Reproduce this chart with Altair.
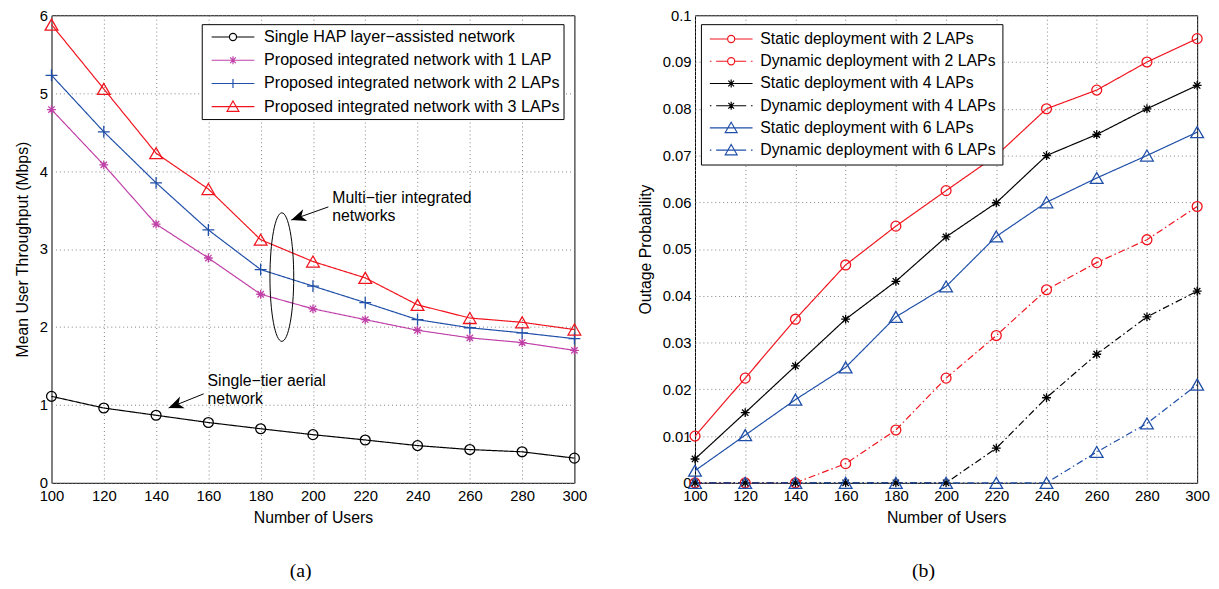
import altair as alt
import pandas as pd

FONT = "Liberation Sans"

users = [100, 120, 140, 160, 180, 200, 220, 240, 260, 280, 300]

# ---------------- panel (a): mean user throughput (Mbps)
a_names = [
    "Single HAP layer\u2212assisted network",
    "Proposed integrated network with 1 LAP",
    "Proposed integrated network with 2 LAPs",
    "Proposed integrated network with 3 LAPs",
]
a_hap = [1.11, 0.96, 0.867, 0.774, 0.694, 0.618, 0.55, 0.478, 0.427, 0.398, 0.317]
a_lap1 = [4.79, 4.08, 3.32, 2.885, 2.42, 2.233, 2.094, 1.958, 1.86, 1.80, 1.70]
a_lap2 = [5.23, 4.505, 3.85, 3.245, 2.737, 2.525, 2.313, 2.094, 1.99, 1.925, 1.85]
a_lap3 = [5.88, 5.055, 4.23, 3.77, 3.12, 2.84, 2.63, 2.284, 2.115, 2.06, 1.967]
a_yticks = [0, 1, 2, 3, 4, 5, 6]

# ---------------- panel (b): outage probability
b_names = [
    "Static deployment with 2 LAPs",
    "Dynamic deployment with 2 LAPs",
    "Static deployment with 4 LAPs",
    "Dynamic deployment with 4 LAPs",
    "Static deployment with 6 LAPs",
    "Dynamic deployment with 6 LAPs",
]
b_static2 = [0.0100, 0.0224, 0.0350, 0.0466, 0.0549, 0.0625, 0.0700, 0.0800, 0.0840, 0.0900, 0.0950]
b_dynamic2 = [0, 0, 0, 0.0041, 0.0113, 0.0224, 0.0315, 0.0413, 0.0471, 0.0520, 0.0591]
b_static4 = [0.0051, 0.0150, 0.0250, 0.0350, 0.0431, 0.0526, 0.0599, 0.0700, 0.0745, 0.0800, 0.0850]
b_dynamic4 = [0, 0, 0, 0, 0, 0, 0.0074, 0.0182, 0.0275, 0.0355, 0.0410]
b_static6 = [0.0026, 0.0102, 0.0178, 0.0247, 0.0355, 0.0420, 0.0527, 0.0600, 0.0652, 0.0700, 0.0750]
b_dynamic6 = [0, 0, 0, 0, 0, 0, 0, 0, 0.0066, 0.0127, 0.0210]
b_yticks = [0, 0.01, 0.02, 0.03, 0.04, 0.05, 0.06, 0.07, 0.08, 0.09, 0.1]

# annotations of panel (a)
ann_text = ["Multi\u2212tier integrated", "networks", "Single\u2212tier aerial", "network"]
ann_text_x = [207.4, 207.4, 159.7, 159.7]
ann_text_y = [3.655, 3.426, 1.307, 1.079]
arrow_x = [205.9, 158.2]
arrow_y = [3.541, 1.142]
arrow_tip_x = [191.7, 144.8]
arrow_tip_y = [3.372, 0.961]
arrow_angle = [250.5, 248.0]
ellipse_x = [188.1]
ellipse_y = [2.64]

RED, MAG, BLUE, BLACK = "#f0141e", "#c040a8", "#1f4fa8", "#000000"
SOLID = [1, 0]
DASHDOT = [7, 3, 1.5, 3]

STAR = "M0,-1 L0,1 M-1,0 L1,0 M-0.72,-0.72 L0.72,0.72 M-0.72,0.72 L0.72,-0.72"
PLUS = "M0,-1 L0,1 M-1,0 L1,0"


def seg(a, b):
    return f"M{a:.3f},0 L{b:.3f},0 "


def legend_path(marker, dashed):
    L, R = -1.0, 4.4
    m = (L + R) / 2
    if marker == "circle":
        r = 0.45
        gl, gr = m - r, m + r
        mk = f"M{m + r:.3f},0 A{r},{r} 0 1,1 {m - r:.3f},0 A{r},{r} 0 1,1 {m + r:.3f},0 "
    elif marker == "star":
        r = 0.5
        d = 0.36
        gl = gr = m
        mk = (f"M{m:.3f},{-r} L{m:.3f},{r} M{m - r:.3f},0 L{m + r:.3f},0 "
              f"M{m - d:.3f},{-d} L{m + d:.3f},{d} M{m - d:.3f},{d} L{m + d:.3f},{-d} ")
    elif marker == "plus":
        r = 0.56
        gl = gr = m
        mk = f"M{m:.3f},{-r} L{m:.3f},{r} "
    else:
        gl = gr = m
        mk = f"M{m:.3f},-0.72 L{m + 0.75:.3f},0.58 L{m - 0.75:.3f},0.58 Z "
    if dashed:
        ln = seg(L, L + 0.2) + seg(L + 0.8, gl) + seg(gr, R - 0.8) + seg(R - 0.2, R)
    else:
        ln = seg(L, gl) + seg(gr, R)
    return (ln + mk).strip()


def long_df(names, arrays):
    rows = []
    for n, arr in zip(names, arrays):
        for u, v in zip(users, arr):
            rows.append({"series": n, "users": u, "value": v})
    return pd.DataFrame(rows)


def panel(df, names, colors, dashes, shapes, sizes, markers, ytitle, yticks, ymax,
          width, legend_opts, caption, extra=None):
    x = alt.X("users:Q", scale=alt.Scale(domain=[100, 300], nice=False, zero=False),
              axis=alt.Axis(values=users, title="Number of Users"))
    y = alt.Y("value:Q", scale=alt.Scale(domain=[0, ymax], nice=False, zero=False),
              axis=alt.Axis(values=yticks, format="~g", title=ytitle))
    layers = []
    for n, c, d in zip(names, colors, dashes):
        layers.append(
            alt.Chart(df).transform_filter(alt.datum.series == n)
            .mark_line(strokeWidth=1.2, color=c, strokeDash=d)
            .encode(x=x, y=y)
        )
    for n, c, shp, sz in zip(names, colors, shapes, sizes):
        layers.append(
            alt.Chart(df).transform_filter(alt.datum.series == n)
            .mark_point(shape=shp, size=sz, filled=False, strokeWidth=1.3, opacity=1, color=c)
            .encode(x=x, y=y)
        )
    leg = alt.Legend(
        title=None, orient="none",
        labelFont=FONT, labelColor="black", labelLimit=0,
        symbolSize=256, symbolStrokeWidth=1.2,
        strokeColor="black", fillColor="white", **legend_opts,
    )
    legend_layer = alt.Chart(df).transform_filter("false").mark_point(
        filled=False, strokeWidth=1.2, opacity=1
    ).encode(
        x=x, y=y,
        stroke=alt.Stroke("series:N", scale=alt.Scale(domain=names, range=colors), legend=leg),
        shape=alt.Shape("series:N", scale=alt.Scale(domain=names,
                        range=[legend_path(mk, d != SOLID) for mk, d in zip(markers, dashes)]),
                        legend=leg),
    )
    layers.append(legend_layer)
    if extra:
        layers += extra(x, y)
    return alt.layer(*layers).properties(
        width=width, height=473,
        title=alt.TitleParams(caption, orient="bottom", anchor="middle", frame="bounds",
                              font="Liberation Serif", fontSize=20, fontWeight="normal",
                              color="black", offset=36),
    )


def annotations(x, y):
    tdf = pd.DataFrame({"users": ann_text_x, "value": ann_text_y, "t": ann_text})
    adf = pd.DataFrame({"users": arrow_x, "value": arrow_y, "users2": arrow_tip_x,
                        "value2": arrow_tip_y})
    hdf = pd.DataFrame({"users": arrow_tip_x, "value": arrow_tip_y, "ang": arrow_angle})
    edf = pd.DataFrame({"users": ellipse_x, "value": ellipse_y})
    texts = alt.Chart(tdf).mark_text(align="left", baseline="middle", font=FONT,
                                     fontSize=16, color="black").encode(x=x, y=y, text="t:N")
    rules = alt.Chart(adf).mark_rule(color="black", strokeWidth=1).encode(
        x=x, y=y, x2="users2:Q", y2="value2:Q")
    heads = alt.Chart(hdf).mark_point(
        shape="M0,0 L0.42,1 L0,0.72 L-0.42,1 Z", size=900, filled=True, color="black",
        opacity=1, strokeWidth=0.5).encode(x=x, y=y, angle=alt.Angle("ang:Q", scale=None))
    ell = alt.Chart(edf).mark_point(
        shape="M0,-1 A0.185,1 0 1,1 0,1 A0.185,1 0 1,1 0,-1 Z", size=16900,
        filled=False, color="black", strokeWidth=1, opacity=1).encode(x=x, y=y)
    return [ell, rules, heads, texts]


df_a = long_df(a_names, [a_hap, a_lap1, a_lap2, a_lap3])
df_b = long_df(b_names, [b_static2, b_dynamic2, b_static4, b_dynamic4, b_static6, b_dynamic6])

left = panel(
    df_a, a_names, [BLACK, MAG, BLUE, RED], [SOLID] * 4,
    ["circle", STAR, PLUS, "triangle-up"], [100, 80, 144, 165],
    ["circle", "star", "plus", "triangle"],
    "Mean User Throughput (Mbps)", a_yticks, 6, 529,
    dict(legendX=152, legendY=9, labelFontSize=16.3, padding=4, rowPadding=5.5,
         symbolOffset=5, labelOffset=36),
    "(a)", annotations,
)
right = panel(
    df_b, b_names, [RED, RED, BLACK, BLACK, BLUE, BLUE],
    [SOLID, DASHDOT, SOLID, DASHDOT, SOLID, DASHDOT],
    ["circle", "circle", STAR, STAR, "triangle-up", "triangle-up"],
    [100, 100, 80, 80, 165, 165],
    ["circle", "circle", "star", "star", "triangle", "triangle"],
    "Outage Probability", b_yticks, 0.1, 508,
    dict(legendX=6, legendY=9, labelFontSize=16, padding=6, rowPadding=5.5,
         symbolOffset=2, labelOffset=34),
    "(b)",
)

chart = alt.hconcat(left, right, spacing=49).resolve_scale(
    stroke="independent", shape="independent", x="independent", y="independent",
).resolve_legend(
    stroke="independent", shape="independent",
).properties(
    padding={"left": 6, "right": 0, "top": -4, "bottom": 0}
).configure_view(stroke="black", strokeWidth=1).configure_axis(
    labelFont=FONT, labelFontSize=15, labelColor="black",
    titleFont=FONT, titleFontSize=16, titleFontWeight="normal", titleColor="black",
    ticks=False, domain=False, grid=True, gridColor="#808080", gridDash=[1, 3],
    gridWidth=1, labelPadding=4, labelFlush=False, labelOverlap=False,
).configure_axisX(titlePadding=6.5, labelPadding=6).configure_axisY(titlePadding=9)

chart.save("out.html", embed_options={"renderer": "svg", "actions": False})
